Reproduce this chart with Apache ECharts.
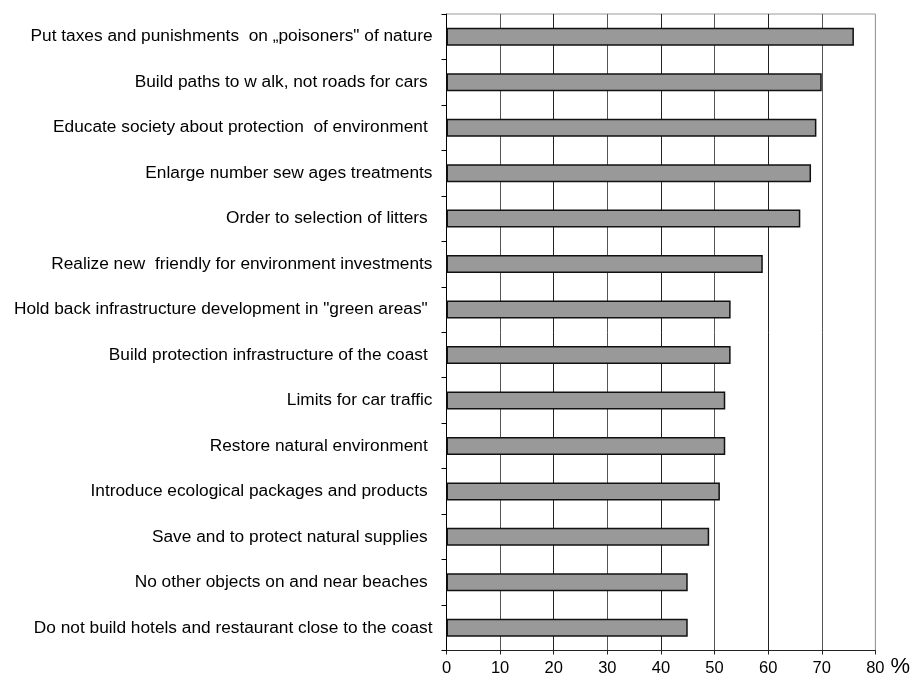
<!DOCTYPE html>
<html>
<head>
<meta charset="utf-8">
<script src="https://cdn.jsdelivr.net/npm/echarts@6/dist/echarts.min.js"></script>
<style>
  html, body { margin: 0; padding: 0; background: #fff; }
  #chart { width: 913px; height: 682px; }
</style>
</head>
<body>
<div id="chart"></div>
<script>
// Measures people would support, share of answers (%)
const categories = [
  'Put taxes and punishments  on \u201epoisoners" of nature',
  'Build paths to w alk, not roads for cars ',
  'Educate society about protection  of environment ',
  'Enlarge number sew ages treatments',
  'Order to selection of litters ',
  'Realize new  friendly for environment investments',
  'Hold back infrastructure development in "green areas" ',
  'Build protection infrastructure of the coast ',
  'Limits for car traffic',
  'Restore natural environment ',
  'Introduce ecological packages and products ',
  'Save and to protect natural supplies ',
  'No other objects on and near beaches ',
  'Do not build hotels and restaurant close to the coast'
];
const values = [76, 70, 69, 68, 66, 59, 53, 53, 52, 52, 51, 49, 45, 45];
const xTicks = { min: 0, max: 80, interval: 10 };

const chart = echarts.init(document.getElementById('chart'));
const font = '"Liberation Sans", Arial, sans-serif';

chart.setOption({
  animation: false,
  backgroundColor: '#fff',
  grid: {
    left: 446.5, right: 35, top: 14, bottom: 31.5,
    show: true, borderColor: '#9a9a9a', borderWidth: 1
  },
  xAxis: {
    type: 'value',
    min: xTicks.min, max: xTicks.max, interval: xTicks.interval,
    name: '%',
    nameLocation: 'end',
    nameGap: 5,
    nameTextStyle: {
      fontFamily: font, fontSize: 22, color: '#000',
      verticalAlign: 'top', padding: [5, 0, 0, 0]
    },
    axisLine: { show: true, lineStyle: { color: '#222', width: 1 } },
    axisTick: { show: true, length: 4, lineStyle: { color: '#222' } },
    axisLabel: { fontFamily: font, fontSize: 16.5, color: '#000', margin: 9 },
    splitLine: {
      show: true,
      lineStyle: {
        color: ['#222', '#555', '#222', '#555', '#222', '#555', '#222', '#555', '#9a9a9a'],
        width: 1
      }
    }
  },
  yAxis: {
    type: 'category',
    inverse: true,
    data: categories,
    axisLine: { show: true, lineStyle: { color: '#000', width: 1 } },
    axisTick: { show: true, length: 5, lineStyle: { color: '#000' } },
    axisLabel: { fontFamily: font, fontSize: 17.3, color: '#000', margin: 14 }
  },
  series: [{
    type: 'bar',
    data: values,
    barWidth: 18,
    itemStyle: { color: '#999999', borderColor: '#111', borderWidth: 1.5 }
  }]
});
</script>
</body>
</html>
